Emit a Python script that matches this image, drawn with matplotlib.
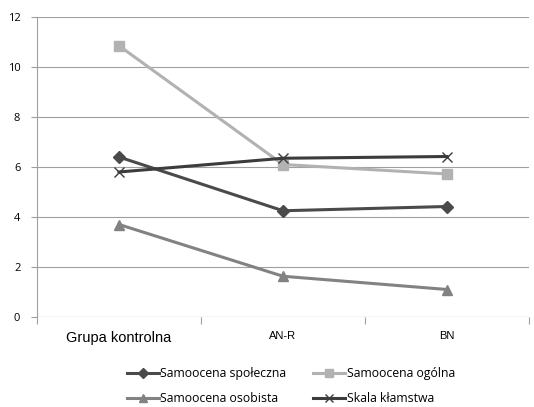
import matplotlib
matplotlib.use("Agg")
import matplotlib.pyplot as plt
from matplotlib.lines import Line2D

categories = ["Grupa kontrolna", "AN-R", "BN"]
spoleczna = [6.4, 4.25, 4.42]
ogolna = [10.85, 6.1, 5.72]
osobista = [3.7, 1.63, 1.1]
klamstwa = [5.8, 6.35, 6.42]
series_names = ["Samoocena społeczna", "Samoocena ogólna", "Samoocena osobista", "Skala kłamstwa"]
yticks = [0, 2, 4, 6, 8, 10, 12]

plt.rcParams['font.family'] = ['Open Sans', 'DejaVu Sans']

fig = plt.figure(figsize=(5.34, 4.07), dpi=100)
ax = fig.add_axes([37/534, 90/407, 492/534, 300/407])

x = list(range(len(categories)))
styles = [
    (spoleczna, "#4a4a4a", "D", 6),
    (ogolna, "#b2b2b2", "s", 7),
    (osobista, "#828282", "^", 7),
    (klamstwa, "#3c3c3c", "x", 7),
]
handles = []
for (vals, col, mk, ms), name in zip(styles, series_names):
    ax.plot(x, vals, color=col, lw=2.2, marker=mk, ms=ms, mec=col, mfc=col,
            mew=1.0, zorder=3)
    handles.append(Line2D([0], [0], color=col, lw=2.2, marker=mk, ms=ms-1, mec=col, mfc=col, mew=1.0))

ax.set_xlim(-0.5, 2.5)
ax.set_ylim(0, 12)
ax.set_yticks(yticks)
ax.grid(axis='y', color='#a0a0a0', lw=0.8)
ax.set_axisbelow(True)
for s in ['top', 'right', 'bottom']:
    ax.spines[s].set_visible(False)
ax.spines['left'].set_color('#a0a0a0')
ax.axhline(0, color='#a0a0a0', lw=0.8)
ax.tick_params(axis='y', length=4, color='#a0a0a0', labelsize=8, pad=8)
ax.set_xticks([-0.5, 0.5, 1.5, 2.5], minor=False)
ax.set_xticklabels([])
ax.tick_params(axis='x', length=5, color='#a0a0a0')
ax.set_xticks(x, minor=True)
ax.set_xticklabels(categories, minor=True, family=['Liberation Sans', 'DejaVu Sans'])
ax.tick_params(axis='x', which='minor', length=0, pad=10, labelsize=8)
labs = ax.get_xticklabels(minor=True)
labs[0].set_fontsize(10.5)

order = [0, 2, 1, 3]
fig.legend([handles[i] for i in order], [series_names[i] for i in order],
           loc='lower center', bbox_to_anchor=(0.545, -0.022),
           ncol=2, frameon=False, fontsize=8.8, handlelength=2.6, columnspacing=2.2,
           handletextpad=0.15, labelspacing=0.95)

fig.savefig("out.png", dpi=100)
